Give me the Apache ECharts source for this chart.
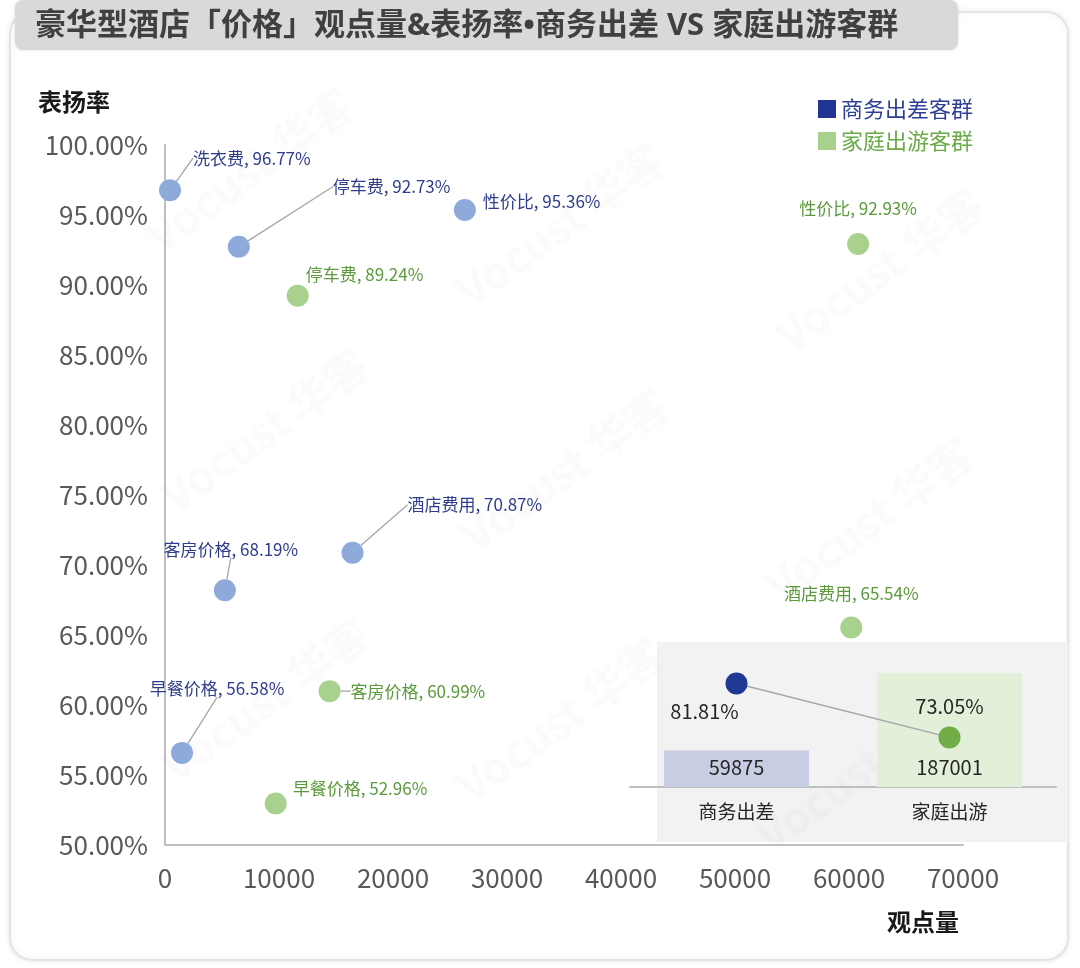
<!DOCTYPE html>
<html><head><meta charset="utf-8">
<script src="https://cdn.jsdelivr.net/npm/echarts@6/dist/echarts.min.js"></script>
<style>html,body{margin:0;padding:0;background:#fff}#c{width:1080px;height:968px}</style>
</head><body><div id="c"></div>
<script>
// ---- data ----
const bizNames = ['洗衣费','停车费','性价比','酒店费用','客房价格','早餐价格'];
const bizViews = [440, 6470, 26300, 16450, 5250, 1490];
const bizRates = [96.77, 92.73, 95.36, 70.87, 68.19, 56.58];
const famNames = ['性价比','停车费','酒店费用','客房价格','早餐价格'];
const famViews = [60800, 11640, 60200, 14440, 9710];
const famRates = [92.93, 89.24, 65.54, 60.99, 52.96];
const groupNames = ['商务出差','家庭出游'];
const groupTotals = [59875, 187001];
const groupRates = [81.81, 73.05];
const seriesNames = ['商务出差客群','家庭出游客群'];

// ---- label placement (style, not data) ----
const bizLabelOff = [[23,-32,'left',true],[94,-60,'left',true],[18,-8,'left',false],[55,-48,'left',true],[6,-41,'center',true],[35,-64,'center',true]];
const famLabelOff = [[0,-35,'center',false],[8,-21,'left',false],[0,-34,'center',false],[21,0,'left',true],[17,-15,'left',false]];

const FONT = '"Noto Sans CJK SC","Noto Sans",sans-serif';
const FONT2 = '"Noto Sans","Noto Sans CJK SC",sans-serif';
const chart = echarts.init(document.getElementById('c'), null, {renderer:'canvas'});

function mkData(names, xs, ys, offs){
  return names.map((n,i)=>({name:n, value:[xs[i], ys[i]], labelLine:{show:offs[i][3]}}));
}
function mkLayout(offs){
  return function(p){
    const o = offs[p.dataIndex];
    return {x: p.rect.x + p.rect.width/2 + o[0], y: p.rect.y + p.rect.height/2 + o[1], align:o[2], verticalAlign:'middle'};
  };
}
const wm = [];
const wmPos = [[250,170],[560,225],[880,270],[265,430],[565,470],[870,520],[265,700],[560,720],[860,770]];
wmPos.forEach(p=>wm.push({type:'text', x:p[0], y:p[1], rotation:Math.PI*0.2, z:1,
  style:{text:'Vocust 华客', font:'bold 44px '+FONT, fill:'rgba(200,160,160,0.055)', align:'center', verticalAlign:'middle'}}));

const option = {
  animation:false,
  backgroundColor:'#ffffff',
  textStyle:{fontFamily:FONT},
  graphic:[
    {type:'rect', shape:{x:10,y:12,width:1058,height:948,r:22}, style:{fill:'#fff', stroke:'#e4e4e4', lineWidth:2, shadowBlur:6, shadowColor:'rgba(0,0,0,0.08)'}, z:-10},
    {type:'rect', shape:{x:15,y:0,width:943,height:50,r:8}, style:{fill:'#d9d9d9', shadowBlur:4, shadowColor:'rgba(0,0,0,0.1)'}, z:-5},
    {type:'text', x:35, y:26, style:{text:'豪华型酒店「价格」观点量&表扬率•商务出差 VS 家庭出游客群', font:'bold 31px '+FONT2, fill:'#404040', verticalAlign:'middle'}, z:5},
    {type:'rect', shape:{x:657,y:642,width:411,height:200}, style:{fill:'#f2f2f2'}, z:-4},
    {type:'text', x:38, y:102, style:{text:'表扬率', font:'bold 24px '+FONT, fill:'#1a1a1a', verticalAlign:'middle'}, z:5},
    {type:'text', x:887, y:922, style:{text:'观点量', font:'bold 24px '+FONT, fill:'#1a1a1a', verticalAlign:'middle'}, z:5}
  ].concat(wm),
  legend:{
    orient:'vertical', left:813, top:93, itemWidth:18, itemHeight:18, itemGap:10, icon:'rect',
    data:[
      {name:seriesNames[0], itemStyle:{color:'#203594'}, textStyle:{color:'#2e3f96'}},
      {name:seriesNames[1], itemStyle:{color:'#a9d18e'}, textStyle:{color:'#6aaa48'}}
    ],
    textStyle:{fontSize:22, fontFamily:FONT}
  },
  grid:[
    {left:165, right:117, top:145, bottom:123},
    {left:630, right:24, top:673, bottom:181}
  ],
  xAxis:[
    {type:'value', gridIndex:0, min:0, max:70000, interval:10000, splitLine:{show:false},
     axisLine:{show:true, lineStyle:{color:'#bfbfbf', width:2}}, axisTick:{show:false},
     axisLabel:{fontSize:26, color:'#595959', margin:20, fontFamily:FONT, formatter:v=>String(v)}},
    {type:'category', gridIndex:1, data:groupNames, boundaryGap:true,
     axisLine:{show:true, lineStyle:{color:'#bfbfbf', width:2}}, axisTick:{show:false},
     axisLabel:{fontSize:19, color:'#262626', margin:15, fontFamily:FONT}}
  ],
  yAxis:[
    {type:'value', gridIndex:0, min:50, max:100, interval:5, splitLine:{show:false},
     axisLine:{show:true, lineStyle:{color:'#bfbfbf', width:2}}, axisTick:{show:false},
     axisLabel:{fontSize:26, color:'#595959', margin:17, fontFamily:FONT, formatter:v=>v.toFixed(2)+'%'}},
    {type:'value', gridIndex:1, min:0, max:187001, show:false, splitLine:{show:false}},
    {type:'value', gridIndex:1, min:65, max:83.5, show:false, splitLine:{show:false}}
  ],
  series:[
    {name:seriesNames[0], type:'scatter', xAxisIndex:0, yAxisIndex:0, symbolSize:22,
     itemStyle:{color:'#8eaadb', opacity:1},
     data:mkData(bizNames, bizViews, bizRates, bizLabelOff),
     label:{show:true, fontSize:17, color:'#2f3d8c', fontFamily:FONT, formatter:p=>p.name+', '+p.value[1].toFixed(2)+'%'},
     labelLine:{show:true, lineStyle:{color:'#a6a6a6', width:1.3}, smooth:false},
     labelLayout:mkLayout(bizLabelOff), z:4},
    {name:seriesNames[1], type:'scatter', xAxisIndex:0, yAxisIndex:0, symbolSize:22,
     itemStyle:{color:'#a9d18e', opacity:1},
     data:mkData(famNames, famViews, famRates, famLabelOff),
     label:{show:true, fontSize:17, color:'#5b9a3c', fontFamily:FONT, formatter:p=>p.name+', '+p.value[1].toFixed(2)+'%'},
     labelLine:{show:true, lineStyle:{color:'#a6a6a6', width:1.3}},
     labelLayout:mkLayout(famLabelOff), z:4},
    {type:'bar', xAxisIndex:1, yAxisIndex:1, barWidth:145,
     data:groupTotals.map((v,i)=>({value:v, itemStyle:{color:i===0?'#c7cde2':'#e2f0d9'}})),
     label:{show:true, position:'insideBottom', distance:10, fontSize:20, color:'#262626', fontFamily:FONT}, z:3},
    {type:'line', xAxisIndex:1, yAxisIndex:2, symbol:'circle', symbolSize:22,
     lineStyle:{color:'#a6a6a6', width:1.5},
     data:groupRates.map((v,i)=>({value:v, itemStyle:{color:i===0?'#1f3894':'#70ad47'},
        label:{show:true, offset:i===0?[-32,28]:[0,-31], position:'inside', formatter:p=>p.value.toFixed(2)+'%'}})),
     label:{fontSize:20, color:'#262626', fontFamily:FONT}, z:5}
  ]
};
chart.setOption(option);
</script></body></html>
